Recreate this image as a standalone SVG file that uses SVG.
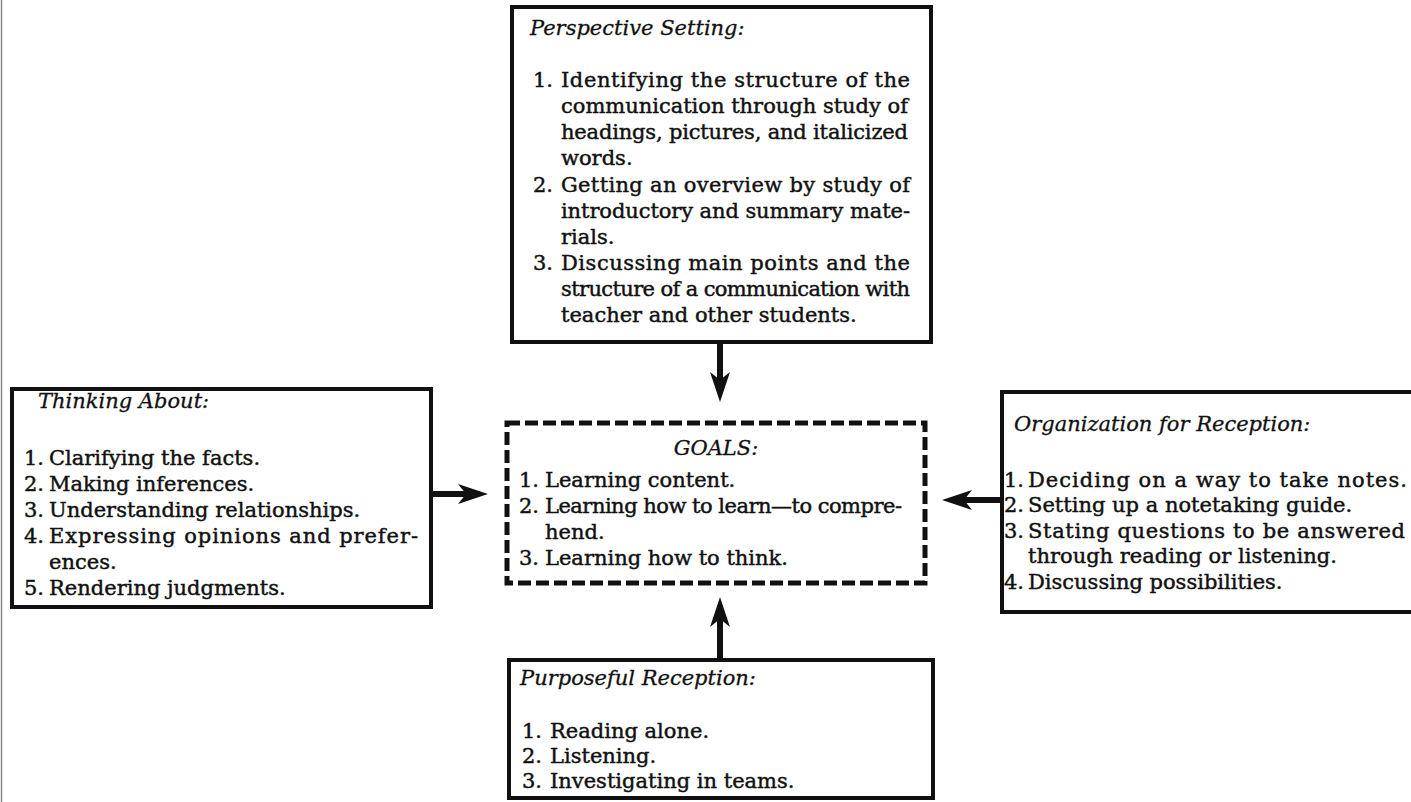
<svg xmlns="http://www.w3.org/2000/svg" width="1411" height="802" viewBox="0 0 1411 802">
<defs>
<style>
.box{fill:#fff;stroke:#111;stroke-width:4}
.dash{fill:#fff;stroke:#111;stroke-width:5;stroke-dasharray:13 5}
.t{font-family:"DejaVu Serif","Liberation Serif",serif;font-size:21px;fill:#111;stroke:#111;stroke-width:0.45}
.h{font-family:"DejaVu Serif","Liberation Serif",serif;font-size:21px;font-style:italic;fill:#111;stroke:#111;stroke-width:0.3}
.conn{stroke:#111;stroke-width:6;fill:none;marker-end:url(#ah)}
</style>
<marker id="ah" markerUnits="userSpaceOnUse" markerWidth="32" markerHeight="22" refX="8" refY="11" orient="auto">
<path d="M0,1 L30,11 L0,21 L8,11 Z" fill="#111"/>
</marker>
</defs>
<rect width="1411" height="802" fill="#fff"/>
<line x1="1.5" y1="0" x2="1.5" y2="802" stroke="#888" stroke-width="1.5"/>

<g id="perspective-setting">
<rect class="box" x="512" y="7" width="419" height="335"/>
<text class="h" x="530" y="35">Perspective Setting:</text>
<text class="t" x="533" y="87">1.</text>
<text class="t" x="561" y="87" textLength="349" lengthAdjust="spacing">Identifying the structure of the</text>
<text class="t" x="561" y="113" textLength="347" lengthAdjust="spacing">communication through study of</text>
<text class="t" x="561" y="139" textLength="347" lengthAdjust="spacing">headings, pictures, and italicized</text>
<text class="t" x="561" y="165">words.</text>
<text class="t" x="533" y="192">2.</text>
<text class="t" x="561" y="192" textLength="349" lengthAdjust="spacing">Getting an overview by study of</text>
<text class="t" x="561" y="218" textLength="349" lengthAdjust="spacing">introductory and summary mate-</text>
<text class="t" x="561" y="244">rials.</text>
<text class="t" x="533" y="270">3.</text>
<text class="t" x="561" y="270" textLength="349" lengthAdjust="spacing">Discussing main points and the</text>
<text class="t" x="561" y="296" textLength="349" lengthAdjust="spacing">structure of a communication with</text>
<text class="t" x="561" y="322">teacher and other students.</text>
</g>

<g id="thinking-about">
<rect class="box" x="12" y="389" width="419" height="218"/>
<text class="h" x="38" y="408">Thinking About:</text>
<text class="t" x="24" y="465">1.</text>
<text class="t" x="49" y="465">Clarifying the facts.</text>
<text class="t" x="24" y="491">2.</text>
<text class="t" x="49" y="491">Making inferences.</text>
<text class="t" x="24" y="517">3.</text>
<text class="t" x="49" y="517">Understanding relationships.</text>
<text class="t" x="24" y="543">4.</text>
<text class="t" x="49" y="543" textLength="369" lengthAdjust="spacing">Expressing opinions and prefer-</text>
<text class="t" x="49" y="569">ences.</text>
<text class="t" x="24" y="595">5.</text>
<text class="t" x="49" y="595">Rendering judgments.</text>
</g>

<g id="goals">
<rect class="dash" x="507" y="423" width="418" height="160"/>
<text class="h" x="716" y="455" text-anchor="middle">GOALS:</text>
<text class="t" x="519" y="487">1.</text>
<text class="t" x="545" y="487">Learning content.</text>
<text class="t" x="519" y="513">2.</text>
<text class="t" x="545" y="513" textLength="357" lengthAdjust="spacing">Learning how to learn—to compre-</text>
<text class="t" x="545" y="539">hend.</text>
<text class="t" x="519" y="565">3.</text>
<text class="t" x="545" y="565">Learning how to think.</text>
</g>

<g id="organization-for-reception">
<rect class="box" x="1002" y="392" width="420" height="220"/>
<text class="h" x="1014" y="431">Organization for Reception:</text>
<text class="t" x="1004" y="487">1.</text>
<text class="t" x="1028" y="487" textLength="379" lengthAdjust="spacing">Deciding on a way to take notes.</text>
<text class="t" x="1004" y="512">2.</text>
<text class="t" x="1028" y="512">Setting up a notetaking guide.</text>
<text class="t" x="1004" y="538">3.</text>
<text class="t" x="1028" y="538" textLength="377" lengthAdjust="spacing">Stating questions to be answered</text>
<text class="t" x="1028" y="563">through reading or listening.</text>
<text class="t" x="1004" y="589">4.</text>
<text class="t" x="1028" y="589">Discussing possibilities.</text>
</g>

<g id="purposeful-reception">
<rect class="box" x="509" y="660" width="424" height="138"/>
<text class="h" x="520" y="685">Purposeful Reception:</text>
<text class="t" x="522" y="738">1.</text>
<text class="t" x="550" y="738">Reading alone.</text>
<text class="t" x="522" y="763">2.</text>
<text class="t" x="550" y="763">Listening.</text>
<text class="t" x="522" y="788">3.</text>
<text class="t" x="550" y="788">Investigating in teams.</text>
</g>

<g id="connectors">
<path class="conn" d="M720,344 V380"/>
<path class="conn" d="M720,658 V619"/>
<path class="conn" d="M433,494 H466"/>
<path class="conn" d="M1000,500 H964"/>
</g>
</svg>
